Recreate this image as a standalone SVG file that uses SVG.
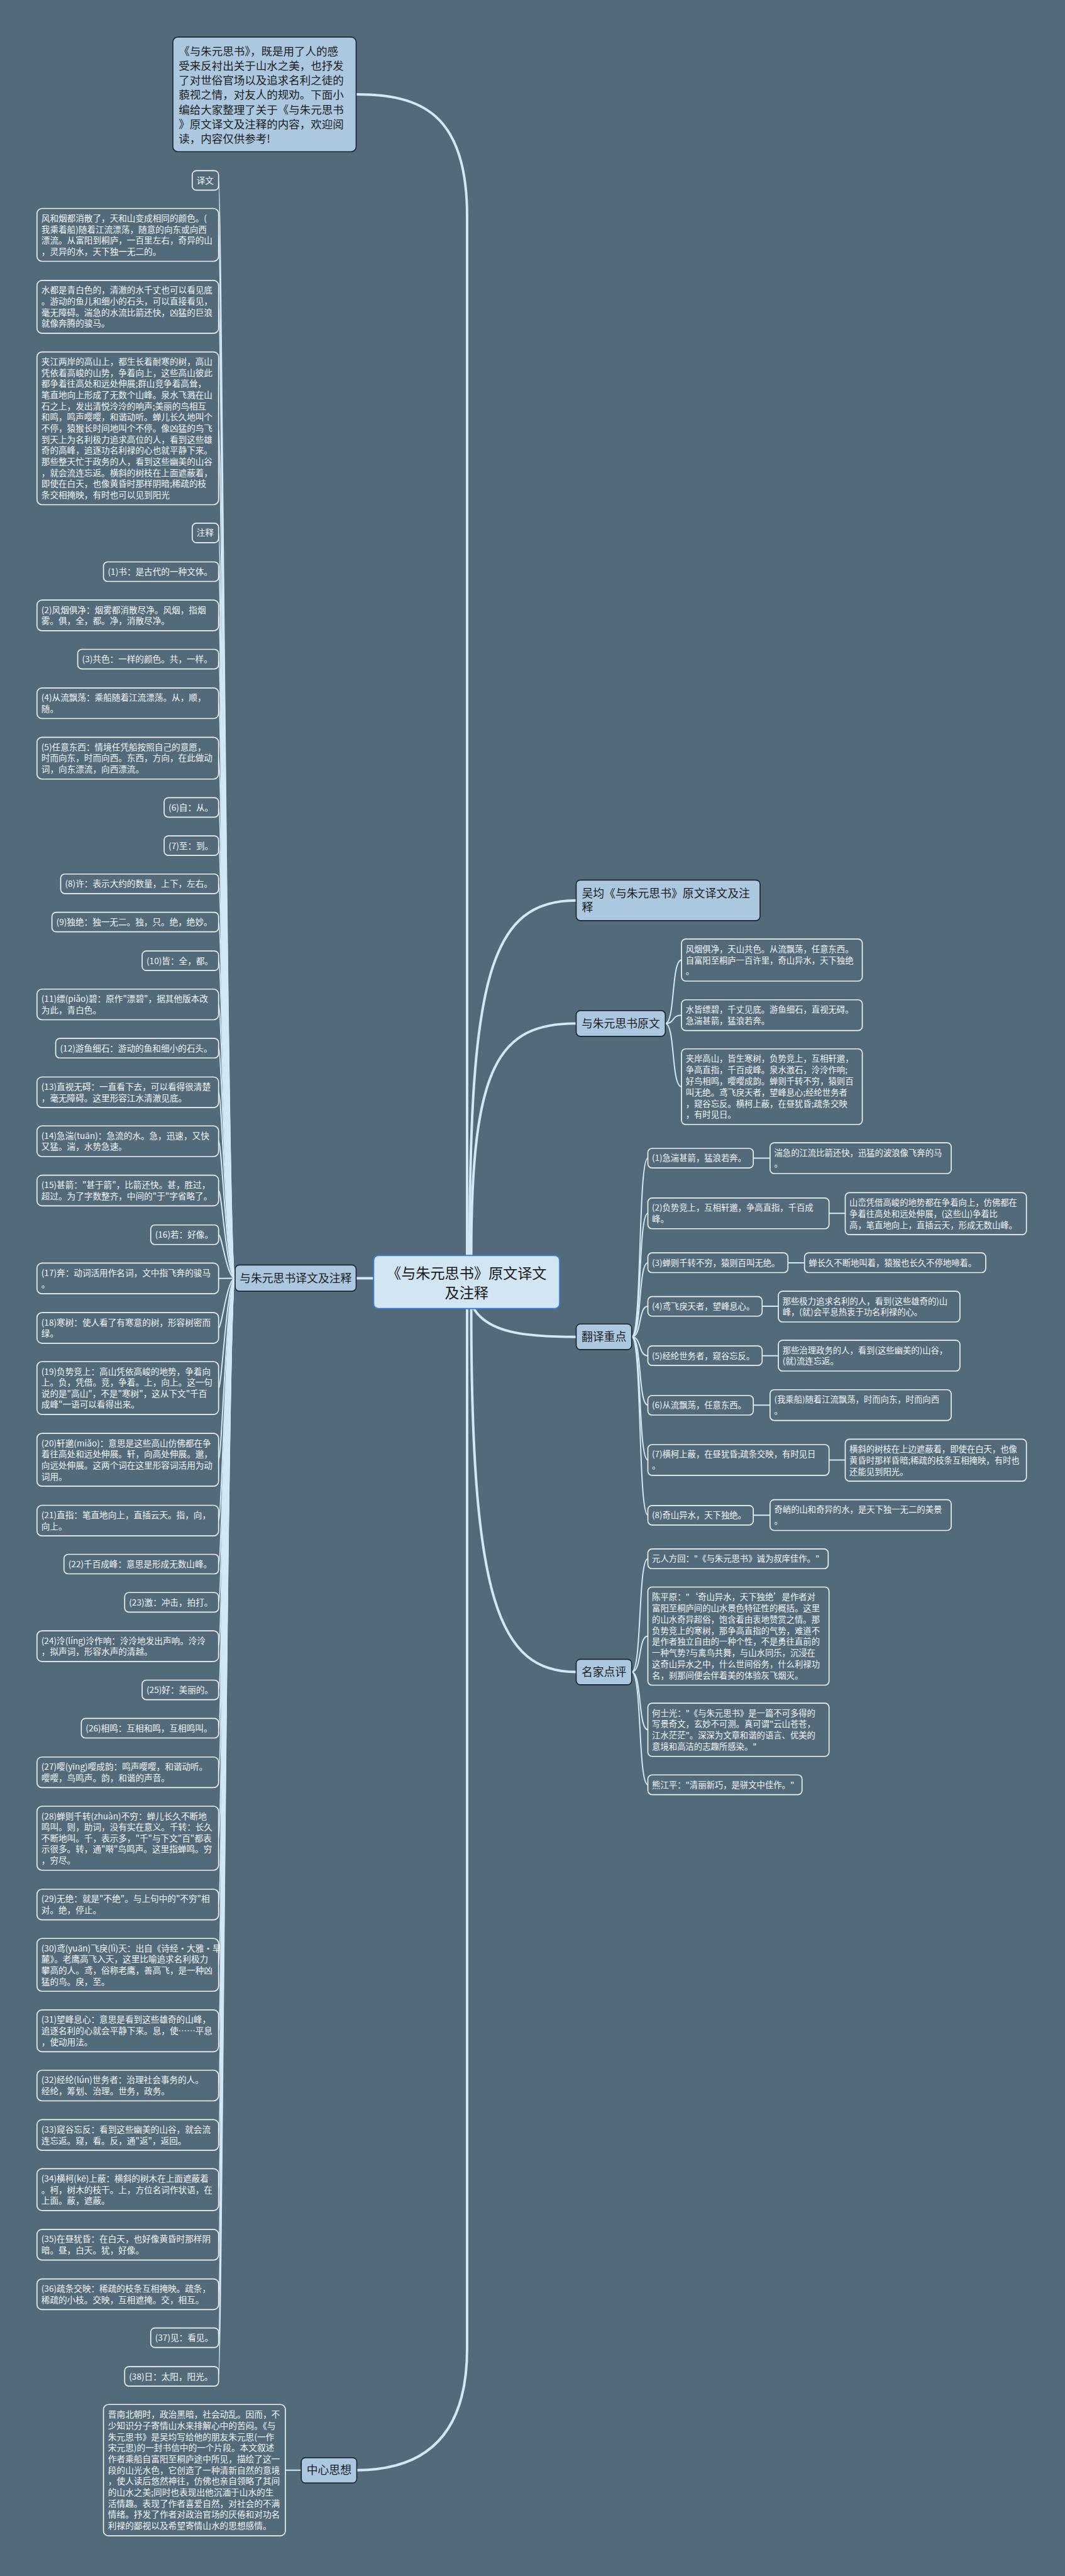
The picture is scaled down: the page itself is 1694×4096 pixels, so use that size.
<svg xmlns="http://www.w3.org/2000/svg" width="1694" height="4096" viewBox="0 0 1694 4096">
<style>
text{font-family:"Noto Sans CJK SC","Noto Sans",sans-serif;}
.l1 rect{fill:#abc8e0;stroke:#1b2630;stroke-width:2.5;}
.l1 text{font-size:27px;fill:#1c1c1c;}
.bx rect{fill:#536a7a;stroke:#eef3f6;stroke-width:2.5;}
.bx text{font-size:20.6px;fill:#f2f5f7;}
.rb rect{fill:#536a7a;stroke:#eef3f6;stroke-width:2.5;}
.rb text{font-size:20.2px;fill:#f2f5f7;}
.cn path{fill:none;stroke:#d3e8f6;stroke-linecap:round;}
.m{stroke-width:6;}
.s{stroke-width:3;}
</style>
<rect x="0" y="0" width="1694" height="4096" fill="#536a7a"/>
<g transform="scale(0.661)">
<g id="connectors" class="cn">
<path class="m" d="M857 227 C1010 227 1124 270 1124 520 L1124 3020"/>
<path class="m" d="M1124 3148 L1124 5650 C1124 5880 1000 5942 858.5 5942"/>
<path class="m" d="M1130 3020 C1130 2350 1180 2166 1386.5 2166"/>
<path class="m" d="M1134 3020 C1134 2560 1200 2462 1386.5 2462"/>
<path class="m" d="M1140 3148 C1175 3205 1260 3216 1386.5 3216"/>
<path class="m" d="M1134 3148 C1134 3850 1200 4022 1386.5 4022"/>
<path class="m" d="M899 3075 L857 3075"/>
<path class="s" d="M686.7 5942 L725 5942"/>
<path class="s" d="M1601 2462 C1625 2462 1615 2309.5 1640 2309.5"/>
<path class="s" d="M1601 2462 C1625 2462 1615 2442 1640 2442"/>
<path class="s" d="M1601 2462 C1625 2462 1615 2614 1640 2614"/>
<path class="s" d="M1520 3216 C1545 3216 1535 2786 1559 2786"/>
<path class="s" d="M1520 3216 C1545 3216 1535 2918.8 1559 2918.8"/>
<path class="s" d="M1520 3216 C1545 3216 1535 3037.7 1559 3037.7"/>
<path class="s" d="M1520 3216 C1545 3216 1535 3142.3 1559 3142.3"/>
<path class="s" d="M1520 3216 C1545 3216 1535 3261.2 1559 3261.2"/>
<path class="s" d="M1520 3216 C1545 3216 1535 3380 1559 3380"/>
<path class="s" d="M1520 3216 C1545 3216 1535 3512 1559 3512"/>
<path class="s" d="M1520 3216 C1545 3216 1535 3644.7 1559 3644.7"/>
<path class="s" d="M1812.7 2786 L1853 2786"/>
<path class="s" d="M1995 2918.8 L2034 2918.8"/>
<path class="s" d="M1896 3037.7 L1936 3037.7"/>
<path class="s" d="M1834 3142.3 L1873 3142.3"/>
<path class="s" d="M1834 3261.2 L1873 3261.2"/>
<path class="s" d="M1812.7 3380 L1853 3380"/>
<path class="s" d="M1995 3512 L2034 3512"/>
<path class="s" d="M1812.7 3644.7 L1853 3644.7"/>
<path class="s" d="M1520 4022 C1545 4022 1535 3749.5 1559 3749.5"/>
<path class="s" d="M1520 4022 C1545 4022 1535 3935.7 1559 3935.7"/>
<path class="s" d="M1520 4022 C1545 4022 1535 4161 1559 4161"/>
<path class="s" d="M1520 4022 C1545 4022 1535 4293 1559 4293"/>
<path class="s" d="M565.8 3075 C546 3075 534 434 526 434"/>
<path class="s" d="M565.8 3075 C546 3075 534 565 526 565"/>
<path class="s" d="M565.8 3075 C546 3075 534 738 526 738"/>
<path class="s" d="M565.8 3075 C546 3075 534 1030.3 526 1030.3"/>
<path class="s" d="M565.8 3075 C546 3075 534 1282 526 1282"/>
<path class="s" d="M565.8 3075 C546 3075 534 1375.2 526 1375.2"/>
<path class="s" d="M565.8 3075 C546 3075 534 1480.4 526 1480.4"/>
<path class="s" d="M565.8 3075 C546 3075 534 1585.5 526 1585.5"/>
<path class="s" d="M565.8 3075 C546 3075 534 1691.7 526 1691.7"/>
<path class="s" d="M565.8 3075 C546 3075 534 1823.8 526 1823.8"/>
<path class="s" d="M565.8 3075 C546 3075 534 1942.3 526 1942.3"/>
<path class="s" d="M565.8 3075 C546 3075 534 2034.2 526 2034.2"/>
<path class="s" d="M565.8 3075 C546 3075 534 2126 526 2126"/>
<path class="s" d="M565.8 3075 C546 3075 534 2218.1 526 2218.1"/>
<path class="s" d="M565.8 3075 C546 3075 534 2311.1 526 2311.1"/>
<path class="s" d="M565.8 3075 C546 3075 534 2416.3 526 2416.3"/>
<path class="s" d="M565.8 3075 C546 3075 534 2521.5 526 2521.5"/>
<path class="s" d="M565.8 3075 C546 3075 534 2627.6 526 2627.6"/>
<path class="s" d="M565.8 3075 C546 3075 534 2745.3 526 2745.3"/>
<path class="s" d="M565.8 3075 C546 3075 534 2863.9 526 2863.9"/>
<path class="s" d="M565.8 3075 C546 3075 534 2970.1 526 2970.1"/>
<path class="s" d="M565.8 3075 C546 3075 534 3075.4 526 3075.4"/>
<path class="s" d="M565.8 3075 C546 3075 534 3194.4 526 3194.4"/>
<path class="s" d="M565.8 3075 C546 3075 534 3339 526 3339"/>
<path class="s" d="M565.8 3075 C546 3075 534 3511.6 526 3511.6"/>
<path class="s" d="M565.8 3075 C546 3075 534 3657.9 526 3657.9"/>
<path class="s" d="M565.8 3075 C546 3075 534 3762.5 526 3762.5"/>
<path class="s" d="M565.8 3075 C546 3075 534 3854.5 526 3854.5"/>
<path class="s" d="M565.8 3075 C546 3075 534 3959.9 526 3959.9"/>
<path class="s" d="M565.8 3075 C546 3075 534 4065.1 526 4065.1"/>
<path class="s" d="M565.8 3075 C546 3075 534 4157.3 526 4157.3"/>
<path class="s" d="M565.8 3075 C546 3075 534 4263.4 526 4263.4"/>
<path class="s" d="M565.8 3075 C546 3075 534 4421.9 526 4421.9"/>
<path class="s" d="M565.8 3075 C546 3075 534 4581.5 526 4581.5"/>
<path class="s" d="M565.8 3075 C546 3075 534 4726.6 526 4726.6"/>
<path class="s" d="M565.8 3075 C546 3075 534 4885.2 526 4885.2"/>
<path class="s" d="M565.8 3075 C546 3075 534 5016.9 526 5016.9"/>
<path class="s" d="M565.8 3075 C546 3075 534 5135.9 526 5135.9"/>
<path class="s" d="M565.8 3075 C546 3075 534 5267.2 526 5267.2"/>
<path class="s" d="M565.8 3075 C546 3075 534 5399.9 526 5399.9"/>
<path class="s" d="M565.8 3075 C546 3075 534 5518.9 526 5518.9"/>
<path class="s" d="M565.8 3075 C546 3075 534 5623.5 526 5623.5"/>
<path class="s" d="M565.8 3075 C546 3075 534 5716.5 526 5716.5"/>
</g>

<g id="central">
<rect x="899" y="3020" width="447.7" height="128" rx="12" fill="#d1e5f2" stroke="#3a7bd0" stroke-width="3"/>
<text x="1123" y="3076" font-size="35" fill="#1c1c1c" text-anchor="middle">《与朱元思书》原文译文</text>
<text x="1123" y="3122.5" font-size="35" fill="#1c1c1c" text-anchor="middle">及注释</text>
</g>

<g id="intro" class="l1">
<rect x="416" y="89" width="441" height="276" rx="12"/>
<text font-size="26.5" style="font-size:26.5px">
<tspan x="430" y="132.6">《与朱元思书》，既是用了人的感</tspan>
<tspan x="430" y="167.8">受来反衬出关于山水之美，也抒发</tspan>
<tspan x="430" y="203">了对世俗官场以及追求名利之徒的</tspan>
<tspan x="430" y="238.2">藐视之情，对友人的规劝。下面小</tspan>
<tspan x="430" y="273.4">编给大家整理了关于《与朱元思书</tspan>
<tspan x="430" y="308.6">》原文译文及注释的内容，欢迎阅</tspan>
<tspan x="430" y="343.8">读，内容仅供参考!</tspan>
</text>
</g>

<g id="yizhu" class="l1">
<rect x="565.8" y="3043" width="291.2" height="63" rx="10"/>
<text x="711.4" y="3084.7" text-anchor="middle">与朱元思书译文及注释</text>
</g>

<g id="wujun" class="l1">
<rect x="1386.5" y="2117" width="442.5" height="97.6" rx="10"/>
<text x="1400" y="2158.7">吴均《与朱元思书》原文译文及注</text>
<text x="1400" y="2192.7">释</text>
</g>

<g id="yuanwen" class="l1">
<rect x="1386.5" y="2431" width="214.5" height="62" rx="10"/>
<text x="1493.7" y="2471.7" text-anchor="middle">与朱元思书原文</text>
</g>

<g id="fanyi" class="l1">
<rect x="1386.5" y="3185" width="133.5" height="61.5" rx="10"/>
<text x="1453.2" y="3225.7" text-anchor="middle">翻译重点</text>
</g>

<g id="mingjia" class="l1">
<rect x="1386.5" y="3991.4" width="133.5" height="61.4" rx="10"/>
<text x="1453.2" y="4031.7" text-anchor="middle">名家点评</text>
</g>

<g id="zhongxin" class="l1">
<rect x="725" y="5912" width="133.5" height="61" rx="10"/>
<text x="791.7" y="5951.7" text-anchor="middle">中心思想</text>
</g>

<g id="zhongxin-text" class="bx">
<rect x="249" y="5784" width="437.7" height="316" rx="12"/>
<text style="font-size:20.7px">
<tspan x="260" y="5816">晋南北朝时，政治黑暗，社会动乱。因而，不</tspan>
<tspan x="260" y="5842.7">少知识分子寄情山水来排解心中的苦闷。《与</tspan>
<tspan x="260" y="5869.4">朱元思书》是吴均写给他的朋友朱元思(一作</tspan>
<tspan x="260" y="5896.1">宋元思)的一封书信中的一个片段。本文叙述</tspan>
<tspan x="260" y="5922.8">作者乘船自富阳至桐庐途中所见，描绘了这一</tspan>
<tspan x="260" y="5949.5">段的山光水色，它创造了一种清新自然的意境</tspan>
<tspan x="260" y="5976.2">，使人读后悠然神往，仿佛也亲自领略了其间</tspan>
<tspan x="260" y="6002.9">的山水之美;同时也表现出他沉湎于山水的生</tspan>
<tspan x="260" y="6029.6">活情趣。表现了作者喜爱自然，对社会的不满</tspan>
<tspan x="260" y="6056.3">情绪。抒发了作者对政治官场的厌倦和对功名</tspan>
<tspan x="260" y="6083">利禄的鄙视以及希望寄情山水的思想感情。</tspan>
</text>
</g>

<!-- right: 原文 -->
<g id="yw1" class="rb"><rect x="1640" y="2259" width="435" height="101" rx="10"/>
<text><tspan x="1650" y="2290">风烟俱净，天山共色。从流飘荡，任意东西。</tspan><tspan x="1650" y="2317">自富阳至桐庐一百许里，奇山异水，天下独绝</tspan><tspan x="1650" y="2344">。</tspan></text></g>
<g id="yw2" class="rb"><rect x="1640" y="2405" width="435" height="74" rx="10"/>
<text><tspan x="1650" y="2436">水皆缥碧，千丈见底。游鱼细石，直视无碍。</tspan><tspan x="1650" y="2463">急湍甚箭，猛浪若奔。</tspan></text></g>
<g id="yw3" class="rb"><rect x="1640" y="2523" width="435" height="182" rx="10"/>
<text><tspan x="1650" y="2554">夹岸高山，皆生寒树，负势竞上，互相轩邈，</tspan><tspan x="1650" y="2581">争高直指，千百成峰。泉水激石，泠泠作响;</tspan><tspan x="1650" y="2608">好鸟相鸣，嘤嘤成韵。蝉则千转不穷，猿则百</tspan><tspan x="1650" y="2635">叫无绝。鸢飞戾天者，望峰息心;经纶世务者</tspan><tspan x="1650" y="2662">，窥谷忘反。横柯上蔽，在昼犹昏;疏条交映</tspan><tspan x="1650" y="2689">，有时见日。</tspan></text></g>

<!-- right: 翻译重点 -->
<g id="fy1" class="rb"><rect x="1559" y="2762.5" width="253.7" height="47" rx="10"/>
<text x="1569" y="2793.5">(1)急湍甚箭，猛浪若奔。</text></g>
<g id="fy1t" class="rb"><rect x="1853" y="2749" width="436" height="74" rx="10"/>
<text><tspan x="1863" y="2780">湍急的江流比箭还快，迅猛的波浪像飞奔的马</tspan><tspan x="1863" y="2807">。</tspan></text></g>
<g id="fy2" class="rb"><rect x="1559" y="2881.8" width="436" height="74" rx="10"/>
<text><tspan x="1569" y="2912.8">(2)负势竞上，互相轩邈，争高直指，千百成</tspan><tspan x="1569" y="2939.8">峰。</tspan></text></g>
<g id="fy2t" class="rb"><rect x="2034" y="2869" width="436" height="101" rx="10"/>
<text><tspan x="2044" y="2900">山峦凭借高峻的地势都在争着向上，仿佛都在</tspan><tspan x="2044" y="2927">争着往高处和远处伸展，(这些山)争着比</tspan><tspan x="2044" y="2954">高，笔直地向上，直插云天，形成无数山峰。</tspan></text></g>
<g id="fy3" class="rb"><rect x="1559" y="3013.8" width="337" height="47.5" rx="10"/>
<text x="1569" y="3044.8">(3)蝉则千转不穷，猿则百叫无绝。</text></g>
<g id="fy3t" class="rb"><rect x="1936" y="3013.8" width="436" height="47.5" rx="10"/>
<text x="1946" y="3044.8">蝉长久不断地叫着，猿猴也长久不停地啼着。</text></g>
<g id="fy4" class="rb"><rect x="1559" y="3119" width="275" height="47" rx="10"/>
<text x="1569" y="3150">(4)鸢飞戾天者，望峰息心。</text></g>
<g id="fy4t" class="rb"><rect x="1873" y="3106" width="437" height="74" rx="10"/>
<text><tspan x="1883" y="3137">那些极力追求名利的人，看到(这些雄奇的)山</tspan><tspan x="1883" y="3164">峰，(就)会平息热衷于功名利禄的心。</tspan></text></g>
<g id="fy5" class="rb"><rect x="1559" y="3237.6" width="275" height="47" rx="10"/>
<text x="1569" y="3268.6">(5)经纶世务者，窥谷忘反。</text></g>
<g id="fy5t" class="rb"><rect x="1873" y="3224" width="437" height="74" rx="10"/>
<text><tspan x="1883" y="3255">那些治理政务的人，看到(这些幽美的)山谷，</tspan><tspan x="1883" y="3282">(就)流连忘返。</tspan></text></g>
<g id="fy6" class="rb"><rect x="1559" y="3357" width="253.7" height="47" rx="10"/>
<text x="1569" y="3388">(6)从流飘荡，任意东西。</text></g>
<g id="fy6t" class="rb"><rect x="1853" y="3343" width="436" height="74" rx="10"/>
<text><tspan x="1863" y="3374">(我乘船)随着江流飘荡，时而向东，时而向西</tspan><tspan x="1863" y="3401">。</tspan></text></g>
<g id="fy7" class="rb"><rect x="1559" y="3475" width="436" height="74" rx="10"/>
<text><tspan x="1569" y="3506">(7)横柯上蔽，在昼犹昏;疏条交映，有时见日</tspan><tspan x="1569" y="3533">。</tspan></text></g>
<g id="fy7t" class="rb"><rect x="2034" y="3462" width="436" height="101" rx="10"/>
<text><tspan x="2044" y="3493">横斜的树枝在上边遮蔽着，即使在白天，也像</tspan><tspan x="2044" y="3520">黄昏时那样昏暗;稀疏的枝条互相掩映，有时也</tspan><tspan x="2044" y="3547">还能见到阳光。</tspan></text></g>
<g id="fy8" class="rb"><rect x="1559" y="3621.5" width="253.7" height="47" rx="10"/>
<text x="1569" y="3652.5">(8)奇山异水，天下独绝。</text></g>
<g id="fy8t" class="rb"><rect x="1853" y="3607.5" width="436" height="74" rx="10"/>
<text><tspan x="1863" y="3638.5">奇峭的山和奇异的水，是天下独一无二的美景</tspan><tspan x="1863" y="3665.5">。</tspan></text></g>

<!-- right: 名家点评 -->
<g id="mj1" class="rb"><rect x="1559" y="3726" width="434" height="47.5" rx="10"/>
<text x="1569" y="3757">元人方回："《与朱元思书》诚为叔庠佳作。"</text></g>
<g id="mj2" class="rb"><rect x="1559" y="3817.7" width="436" height="236" rx="10"/>
<text><tspan x="1569" y="3848.7">陈平原："‘奇山异水，天下独绝’是作者对</tspan><tspan x="1569" y="3875.7">富阳至桐庐间的山水景色特征性的概括。这里</tspan><tspan x="1569" y="3902.7">的山水奇异超俗，饱含着由衷地赞赏之情。那</tspan><tspan x="1569" y="3929.7">负势竞上的寒树，那争高直指的气势，难道不</tspan><tspan x="1569" y="3956.7">是作者独立自由的一种个性，不是勇往直前的</tspan><tspan x="1569" y="3983.7">一种气势?与禽鸟共舞，与山水同乐，沉浸在</tspan><tspan x="1569" y="4010.7">这奇山异水之中，什么世间俗务，什么利禄功</tspan><tspan x="1569" y="4037.7">名，刹那间便会伴着美的体验灰飞烟灭。</tspan></text></g>
<g id="mj3" class="rb"><rect x="1559" y="4097" width="436" height="128" rx="10"/>
<text><tspan x="1569" y="4128">何士光："《与朱元思书》是一篇不可多得的</tspan><tspan x="1569" y="4155">写景奇文，玄妙不可测。真可谓"云山苍苍，</tspan><tspan x="1569" y="4182">江水茫茫"。深深为文章和谐的语言、优美的</tspan><tspan x="1569" y="4209">意境和高洁的志趣所感染。"</tspan></text></g>
<g id="mj4" class="rb"><rect x="1559" y="4269.6" width="371" height="47.5" rx="10"/>
<text x="1569" y="4300.6">熊江平："清丽新巧，是骈文中佳作。"</text></g>

<!-- left column -->
<g id="n-yiwen" class="bx"><rect x="462.6" y="410.5" width="63.4" height="47" rx="10"/><text x="473" y="441.5">译文</text></g>
<g id="n-y1" class="bx"><rect x="89" y="501.5" width="437" height="127.1" rx="12"/>
<text><tspan x="99.5" y="532.5">风和烟都消散了，天和山变成相同的颜色。(</tspan><tspan x="99.5" y="559.2">我乘着船)随着江流漂荡，随意的向东或向西</tspan><tspan x="99.5" y="585.9">漂流。从富阳到桐庐，一百里左右，奇异的山</tspan><tspan x="99.5" y="612.6">，灵异的水，天下独一无二的。</tspan></text></g>
<g id="n-y2" class="bx"><rect x="89" y="674.6" width="437" height="127.1" rx="12"/>
<text><tspan x="99.5" y="705.6">水都是青白色的，清澈的水千丈也可以看见底</tspan><tspan x="99.5" y="732.3">。游动的鱼儿和细小的石头，可以直接看见，</tspan><tspan x="99.5" y="759">毫无障碍。湍急的水流比箭还快，凶猛的巨浪</tspan><tspan x="99.5" y="785.7">就像奔腾的骏马。</tspan></text></g>
<g id="n-y3" class="bx"><rect x="89" y="846.6" width="437" height="367.4" rx="12"/>
<text><tspan x="99.5" y="877.6">夹江两岸的高山上，都生长着耐寒的树，高山</tspan><tspan x="99.5" y="904.3">凭依着高峻的山势，争着向上，这些高山彼此</tspan><tspan x="99.5" y="931">都争着往高处和远处伸展;群山竞争着高耸，</tspan><tspan x="99.5" y="957.7">笔直地向上形成了无数个山峰。泉水飞溅在山</tspan><tspan x="99.5" y="984.4">石之上，发出清悦泠泠的响声;美丽的鸟相互</tspan><tspan x="99.5" y="1011.1">和鸣，鸣声嘤嘤，和谐动听。蝉儿长久地叫个</tspan><tspan x="99.5" y="1037.8">不停，猿猴长时间地叫个不停。像凶猛的鸟飞</tspan><tspan x="99.5" y="1064.5">到天上为名利极力追求高位的人，看到这些雄</tspan><tspan x="99.5" y="1091.2">奇的高峰，追逐功名利禄的心也就平静下来。</tspan><tspan x="99.5" y="1117.9">那些整天忙于政务的人，看到这些幽美的山谷</tspan><tspan x="99.5" y="1144.6">，就会流连忘返。横斜的树枝在上面遮蔽着，</tspan><tspan x="99.5" y="1171.3">即使在白天，也像黄昏时那样阴暗;稀疏的枝</tspan><tspan x="99.5" y="1198">条交相掩映，有时也可以见到阳光</tspan></text></g>
<g id="n-zhushi" class="bx"><rect x="462.6" y="1258.5" width="63.4" height="47" rx="10"/><text x="473" y="1289.5">注释</text></g>
<g id="n1" class="bx"><rect x="249" y="1351.7" width="277" height="47" rx="10"/><text x="259.5" y="1382.7">(1)书：是古代的一种文体。</text></g>
<g id="n2" class="bx"><rect x="89" y="1443.5" width="437" height="73.7" rx="12"/><text><tspan x="99.5" y="1474.5">(2)风烟俱净：烟雾都消散尽净。风烟，指烟</tspan><tspan x="99.5" y="1501.2">雾。俱，全，都。净，消散尽净。</tspan></text></g>
<g id="n3" class="bx"><rect x="187" y="1562" width="339" height="47" rx="10"/><text x="197.5" y="1593">(3)共色：一样的颜色。共，一样。</text></g>
<g id="n4" class="bx"><rect x="89" y="1654.8" width="437" height="73.7" rx="12"/><text><tspan x="99.5" y="1685.8">(4)从流飘荡：乘船随着江流漂荡。从，顺，</tspan><tspan x="99.5" y="1712.5">随。</tspan></text></g>
<g id="n5" class="bx"><rect x="89" y="1773.6" width="437" height="100.4" rx="12"/><text><tspan x="99.5" y="1804.6">(5)任意东西：情境任凭船按照自己的意愿，</tspan><tspan x="99.5" y="1831.3">时而向东，时而向西。东西，方向，在此做动</tspan><tspan x="99.5" y="1858">词，向东漂流，向西漂流。</tspan></text></g>
<g id="n6" class="bx"><rect x="395" y="1918.8" width="131" height="47" rx="10"/><text x="405.5" y="1949.8">(6)自：从。</text></g>
<g id="n7" class="bx"><rect x="395" y="2010.7" width="131" height="47" rx="10"/><text x="405.5" y="2041.7">(7)至：到。</text></g>
<g id="n8" class="bx"><rect x="146" y="2102.5" width="380" height="47" rx="10"/><text x="156.5" y="2133.5">(8)许：表示大约的数量，上下，左右。</text></g>
<g id="n9" class="bx"><rect x="125" y="2194.6" width="401" height="47" rx="10"/><text x="135.5" y="2225.6">(9)独绝：独一无二。独，只。绝，绝妙。</text></g>
<g id="n10" class="bx"><rect x="342" y="2287.6" width="184" height="47" rx="10"/><text x="352.5" y="2318.6">(10)皆：全，都。</text></g>
<g id="n11" class="bx"><rect x="89" y="2379.4" width="437" height="73.7" rx="12"/><text><tspan x="99.5" y="2410.4">(11)缥(piǎo)碧：原作"漂碧"，据其他版本改</tspan><tspan x="99.5" y="2437.1">为此，青白色。</tspan></text></g>
<g id="n12" class="bx"><rect x="134" y="2498" width="392" height="47" rx="10"/><text x="144.5" y="2529">(12)游鱼细石：游动的鱼和细小的石头。</text></g>
<g id="n13" class="bx"><rect x="89" y="2590.7" width="437" height="73.7" rx="12"/><text><tspan x="99.5" y="2621.7">(13)直视无碍：一直看下去，可以看得很清楚</tspan><tspan x="99.5" y="2648.4">，毫无障碍。这里形容江水清澈见底。</tspan></text></g>
<g id="n14" class="bx"><rect x="89" y="2708.4" width="437" height="73.7" rx="12"/><text><tspan x="99.5" y="2739.4">(14)急湍(tuān)：急流的水。急，迅速，又快</tspan><tspan x="99.5" y="2766.1">又猛。湍，水势急速。</tspan></text></g>
<g id="n15" class="bx"><rect x="89" y="2827" width="437" height="73.7" rx="12"/><text><tspan x="99.5" y="2858">(15)甚箭："甚于箭"，比箭还快。甚，胜过，</tspan><tspan x="99.5" y="2884.7">超过。为了字数整齐，中间的"于"字省略了。</tspan></text></g>
<g id="n16" class="bx"><rect x="362.7" y="2946.6" width="163.3" height="47" rx="10"/><text x="373.2" y="2977.6">(16)若：好像。</text></g>
<g id="n17" class="bx"><rect x="89" y="3038.5" width="437" height="73.7" rx="12"/><text><tspan x="99.5" y="3069.5">(17)奔：动词活用作名词，文中指飞奔的骏马</tspan><tspan x="99.5" y="3096.2">。</tspan></text></g>
<g id="n18" class="bx"><rect x="89" y="3157.5" width="437" height="73.7" rx="12"/><text><tspan x="99.5" y="3188.5">(18)寒树：使人看了有寒意的树，形容树密而</tspan><tspan x="99.5" y="3215.2">绿。</tspan></text></g>
<g id="n19" class="bx"><rect x="89" y="3275.4" width="437" height="127.1" rx="12"/><text><tspan x="99.5" y="3306.4">(19)负势竞上：高山凭依高峻的地势，争着向</tspan><tspan x="99.5" y="3333.1">上。负，凭借。竞，争着。上，向上。这一句</tspan><tspan x="99.5" y="3359.8">说的是"高山"，不是"寒树"，这从下文"千百</tspan><tspan x="99.5" y="3386.5">成峰"一语可以看得出来。</tspan></text></g>
<g id="n20" class="bx"><rect x="89" y="3448" width="437" height="127.1" rx="12"/><text><tspan x="99.5" y="3479">(20)轩邈(miǎo)：意思是这些高山仿佛都在争</tspan><tspan x="99.5" y="3505.7">着往高处和远处伸展。轩，向高处伸展。邈，</tspan><tspan x="99.5" y="3532.4">向远处伸展。这两个词在这里形容词活用为动</tspan><tspan x="99.5" y="3559.1">词用。</tspan></text></g>
<g id="n21" class="bx"><rect x="89" y="3621" width="437" height="73.7" rx="12"/><text><tspan x="99.5" y="3652">(21)直指：笔直地向上，直插云天。指，向，</tspan><tspan x="99.5" y="3678.7">向上。</tspan></text></g>
<g id="n22" class="bx"><rect x="154" y="3739" width="372" height="47" rx="10"/><text x="164.5" y="3770">(22)千百成峰：意思是形成无数山峰。</text></g>
<g id="n23" class="bx"><rect x="300" y="3831" width="226" height="47" rx="10"/><text x="310.5" y="3862">(23)激：冲击，拍打。</text></g>
<g id="n24" class="bx"><rect x="89" y="3923" width="437" height="73.7" rx="12"/><text><tspan x="99.5" y="3954">(24)泠(líng)泠作响：泠泠地发出声响。泠泠</tspan><tspan x="99.5" y="3980.7">，拟声词，形容水声的清越。</tspan></text></g>
<g id="n25" class="bx"><rect x="342" y="4041.6" width="184" height="47" rx="10"/><text x="352.5" y="4072.6">(25)好：美丽的。</text></g>
<g id="n26" class="bx"><rect x="195.7" y="4133.8" width="330.3" height="47" rx="10"/><text x="206.2" y="4164.8">(26)相鸣：互相和鸣，互相鸣叫。</text></g>
<g id="n27" class="bx"><rect x="89" y="4226.5" width="437" height="73.7" rx="12"/><text><tspan x="99.5" y="4257.5">(27)嘤(yīng)嘤成韵：鸣声嘤嘤，和谐动听。</tspan><tspan x="99.5" y="4284.2">嘤嘤，鸟鸣声。韵，和谐的声音。</tspan></text></g>
<g id="n28" class="bx"><rect x="89" y="4345" width="437" height="153.8" rx="12"/><text><tspan x="99.5" y="4376">(28)蝉则千转(zhuàn)不穷：蝉儿长久不断地</tspan><tspan x="99.5" y="4402.7">鸣叫。则，助词，没有实在意义。千转：长久</tspan><tspan x="99.5" y="4429.4">不断地叫。千，表示多，"千"与下文"百"都表</tspan><tspan x="99.5" y="4456.1">示很多。转，通"啭"鸟鸣声。这里指蝉鸣。穷</tspan><tspan x="99.5" y="4482.8">，穷尽。</tspan></text></g>
<g id="n29" class="bx"><rect x="89" y="4544.6" width="437" height="73.7" rx="12"/><text><tspan x="99.5" y="4575.6">(29)无绝：就是"不绝"。与上句中的"不穷"相</tspan><tspan x="99.5" y="4602.3">对。绝，停止。</tspan></text></g>
<g id="n30" class="bx"><rect x="89" y="4663" width="437" height="127.1" rx="12"/><text><tspan x="99.5" y="4694">(30)鸢(yuān)飞戾(lì)天：出自《诗经·大雅·旱</tspan><tspan x="99.5" y="4720.7">麓》。老鹰高飞入天，这里比喻追求名利极力</tspan><tspan x="99.5" y="4747.4">攀高的人。鸢，俗称老鹰，善高飞，是一种凶</tspan><tspan x="99.5" y="4774.1">猛的鸟。戾，至。</tspan></text></g>
<g id="n31" class="bx"><rect x="89" y="4835" width="437" height="100.4" rx="12"/><text><tspan x="99.5" y="4866">(31)望峰息心：意思是看到这些雄奇的山峰，</tspan><tspan x="99.5" y="4892.7">追逐名利的心就会平静下来。息，使……平息</tspan><tspan x="99.5" y="4919.4">，使动用法。</tspan></text></g>
<g id="n32" class="bx"><rect x="89" y="4980" width="437" height="73.7" rx="12"/><text><tspan x="99.5" y="5011">(32)经纶(lún)世务者：治理社会事务的人。</tspan><tspan x="99.5" y="5037.7">经纶，筹划、治理。世务，政务。</tspan></text></g>
<g id="n33" class="bx"><rect x="89" y="5099" width="437" height="73.7" rx="12"/><text><tspan x="99.5" y="5130">(33)窥谷忘反：看到这些幽美的山谷，就会流</tspan><tspan x="99.5" y="5156.7">连忘返。窥，看。反，通"返"，返回。</tspan></text></g>
<g id="n34" class="bx"><rect x="89" y="5217" width="437" height="100.4" rx="12"/><text><tspan x="99.5" y="5248">(34)横柯(kē)上蔽：横斜的树木在上面遮蔽着</tspan><tspan x="99.5" y="5274.7">。柯，树木的枝干。上，方位名词作状语，在</tspan><tspan x="99.5" y="5301.4">上面。蔽，遮蔽。</tspan></text></g>
<g id="n35" class="bx"><rect x="89" y="5363" width="437" height="73.7" rx="12"/><text><tspan x="99.5" y="5394">(35)在昼犹昏：在白天，也好像黄昏时那样阴</tspan><tspan x="99.5" y="5420.7">暗。昼，白天。犹，好像。</tspan></text></g>
<g id="n36" class="bx"><rect x="89" y="5482" width="437" height="73.7" rx="12"/><text><tspan x="99.5" y="5513">(36)疏条交映：稀疏的枝条互相掩映。疏条，</tspan><tspan x="99.5" y="5539.7">稀疏的小枝。交映，互相遮掩。交，相互。</tspan></text></g>
<g id="n37" class="bx"><rect x="362.7" y="5600" width="163.3" height="47" rx="10"/><text x="373.2" y="5631">(37)见：看见。</text></g>
<g id="n38" class="bx"><rect x="300" y="5693" width="226" height="47" rx="10"/><text x="310.5" y="5724">(38)日：太阳，阳光。</text></g>
</g>
</svg>
